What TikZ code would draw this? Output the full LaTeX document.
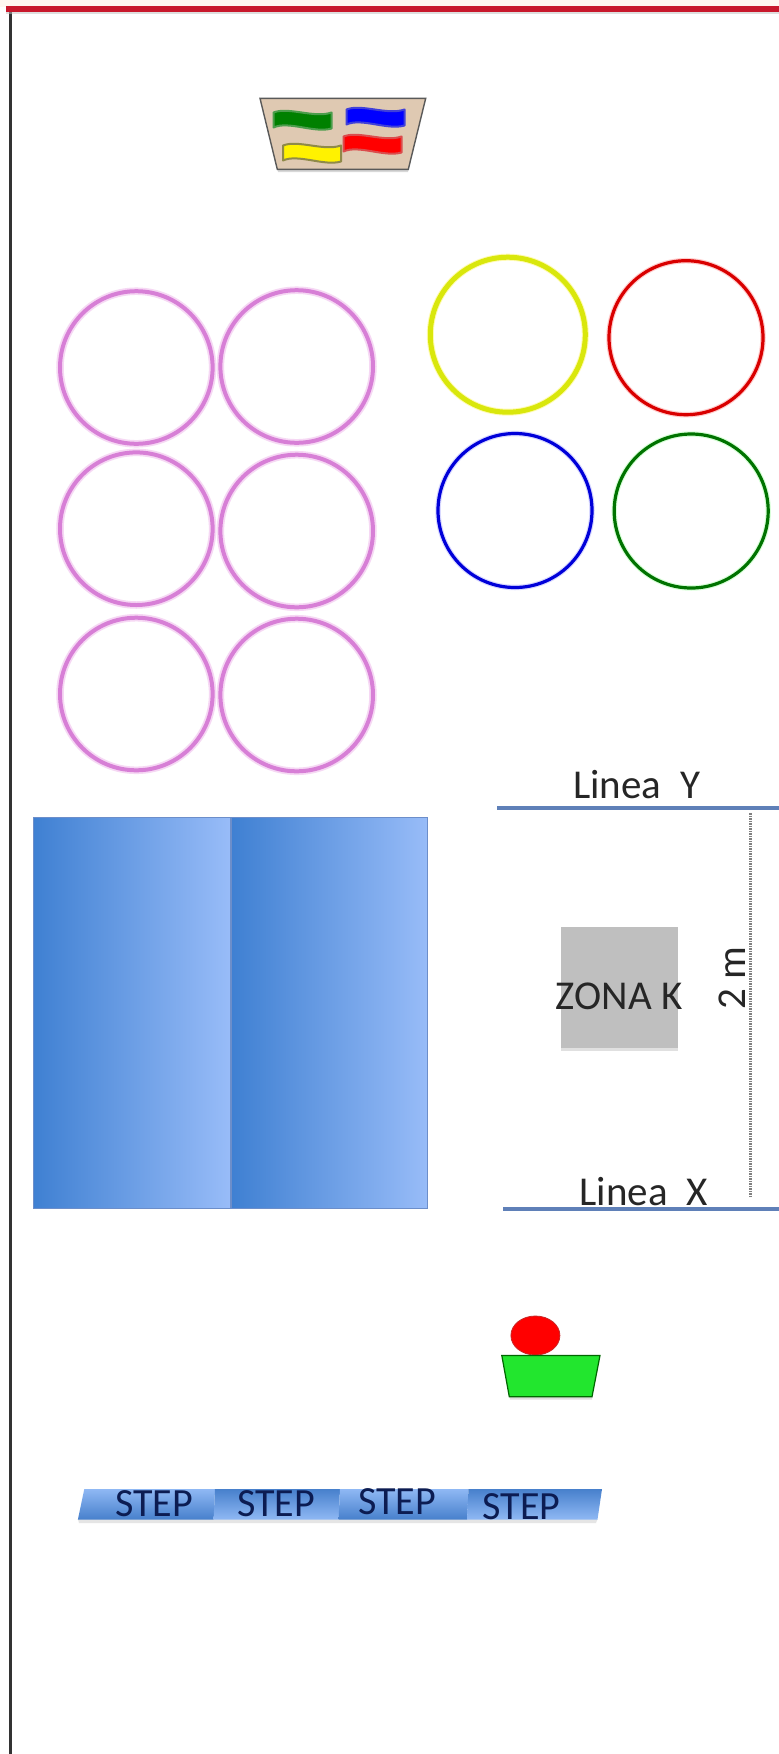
\documentclass[tikz,border=0pt]{standalone}
\usepackage{fontspec}
\setmainfont{Carlito}
\definecolor{hoop}{HTML}{D77FD6}
\definecolor{hoopglow}{HTML}{F6D8F4}
\definecolor{linecol}{HTML}{5F80B8}
\definecolor{boxL}{HTML}{3F80D2}
\definecolor{boxR}{HTML}{98BCF8}
\definecolor{boxE}{HTML}{6C8ECA}
\definecolor{stepD}{HTML}{4780CC}
\definecolor{stepL}{HTML}{8FB8F4}
\definecolor{stepT}{HTML}{0C1C52}
\definecolor{tan}{HTML}{DFC9B2}
\definecolor{topred}{HTML}{C8182C}
\definecolor{limefill}{HTML}{22E62E}
\tikzset{
  bigtext/.style={inner sep=0pt,text=black!85,font=\fontsize{41}{48}\selectfont},
  steptext/.style={inner sep=0pt,anchor=base,text=stepT,font=\fontsize{40}{46}\selectfont},
  hoopring/.style={draw=hoop,line width=4pt},
  hoophalo/.style={draw=hoopglow,line width=7.5pt},
  colring/.style={line width=3.2pt},
  pad/.style={left color=boxL,right color=boxR,middle color=boxL!50!boxR,draw=boxE,line width=1pt},
  flagshape/.style={line width=2pt,line join=round},
  guide/.style={linecol,line width=4.5pt},
}
\newcommand{\flagat}[4]{% cx cy fill edge
  \path[fill=#3,draw=#4,flagshape,shift={(#1,#2)}]
    (-29,-8) .. controls (-14,-14) and (12,-2) .. (29,-8)
    -- (29,8) .. controls (12,13) and (-14,0) .. (-29,7) -- cycle;}
\begin{document}
\begin{tikzpicture}[x=1pt,y=-1pt]
\useasboundingbox (0,0) rectangle (779,1754);
\fill[white] (0,0) rectangle (779,1754);
\fill[orange!6] (0,0) rectangle (779,7);
% frame
\coordinate (frameTL) at (6,9);
\coordinate (frameTR) at (779,9);
\coordinate (frameBL) at (10,1754);
\draw[black!80,line width=3pt] (10,9) -- (frameBL);
\fill[black!25,opacity=.5] (6,11) rectangle (779,14);
\draw[topred,line width=5.5pt] (frameTL) -- (frameTR);
% tray with flags
\fill[black!30,opacity=.5] (262,100) -- (424,100) -- (408,172) -- (278,172) -- cycle;
\draw[fill=tan,draw=black!65,line width=1.4pt] (260,98.3) -- (425.7,98.3) -- (408.3,169.3) -- (277.3,169.3) -- cycle;
\flagat{302.5}{120.5}{green!50!black}{green!45!black!70}
\flagat{375.5}{117.5}{blue}{blue!80!black!75}
\flagat{372.5}{144.5}{red}{red!80!black!70}
\flagat{312}{153.5}{yellow}{yellow!50!black}
% pink hoops
\foreach \n/\cx/\cy in {a/136.3/367.5,b/296.7/366.5,c/136.3/528.7,d/296.7/531,e/136.3/694,f/296.7/695}{
  \draw[hoophalo] (\cx,\cy) circle[radius=76.3];
  \draw[hoopring] (\cx,\cy) circle[radius=76.3];
}
% coloured hoops
\draw[yellow!30,line width=7pt] (507.8,334.7) circle[radius=77.5];
\draw[yellow!85!green,line width=5pt] (507.8,334.7) circle[radius=77.5];
\draw[red!20,line width=5.5pt] (686,337.7) circle[radius=77];
\draw[colring,red!85!black] (686,337.7) circle[radius=77];
\draw[blue!15,line width=5.5pt] (515,510.5) circle[radius=77];
\draw[colring,blue!85!black] (515,510.5) circle[radius=77];
\draw[green!15,line width=5.5pt] (691.2,511) circle[radius=77];
\draw[colring,green!45!black] (691.2,511) circle[radius=77];
% mats
\path[pad] (33.3,817) rectangle (230,1208);
\path[pad] (231.7,817) rectangle (427.5,1208);
% lines
\coordinate (yL) at (497,808); \coordinate (yR) at (779,808);
\coordinate (xL) at (503,1209); \coordinate (xR) at (779,1209);
\draw[guide] (yL) -- (yR);
\draw[guide] (xL) -- (xR);
\node[bigtext,anchor=base] (lineaY) at (636.7,798) {Linea\ \ Y};
\node[bigtext,anchor=base] (lineaX) at (643.5,1205) {Linea\ \ X};
\coordinate (dimT) at (750.7,813); \coordinate (dimB) at (750.7,1198);
\draw[black!50,line width=3.5pt,dash pattern=on 1.5pt off 1pt] (dimT) -- (dimB);
\node[bigtext,anchor=base,rotate=90] (dim) at (745.7,978) {2 m};
% zone K
\fill[black!12] (560.5,1048) rectangle (678,1051);
\fill[black!25] (560.5,926.7) rectangle (678,1048);
\node[bigtext,anchor=base] (zona) at (619.2,1009) {ZONA K};
% marker
\fill[red,draw=red!75!black!85,line width=.8pt] (535.4,1335.5) ellipse[x radius=24.5,y radius=19.5];
\fill[black!25,opacity=.5] (504,1358) -- (598,1358) -- (592,1399.5) -- (510,1399.5) -- cycle;
\draw[fill=limefill,draw=black!60!green,line width=1.2pt] (501.8,1355.5) -- (600,1355.5) -- (592,1396.7) -- (509.3,1396.7) -- cycle;
% step bar
\fill[black!20,opacity=.5] (79,1523) -- (596,1523) -- (597.5,1519) -- (78,1519) -- cycle;
\shade[top color=stepL,bottom color=stepD] (84.3,1489) -- (215,1489) -- (213.6,1519.5) -- (77.9,1519.5) -- cycle;
\shade[top color=stepD,bottom color=stepL] (215,1489) -- (340,1489) -- (338.6,1519.5) -- (213.6,1519.5) -- cycle;
\shade[top color=stepL,bottom color=stepD] (340,1489) -- (468.5,1489) -- (467,1519.5) -- (338.6,1519.5) -- cycle;
\shade[top color=stepD,bottom color=stepL] (468.5,1489) -- (602,1489) -- (597.5,1519.5) -- (467,1519.5) -- cycle;
\node[steptext] (s1) at (154,1516.7) {STEP};
\node[steptext] (s2) at (275.9,1516.7) {STEP};
\node[steptext] (s3) at (397,1514) {STEP};
\node[steptext] (s4) at (521.6,1519.3) {STEP};
\end{tikzpicture}
\end{document}
